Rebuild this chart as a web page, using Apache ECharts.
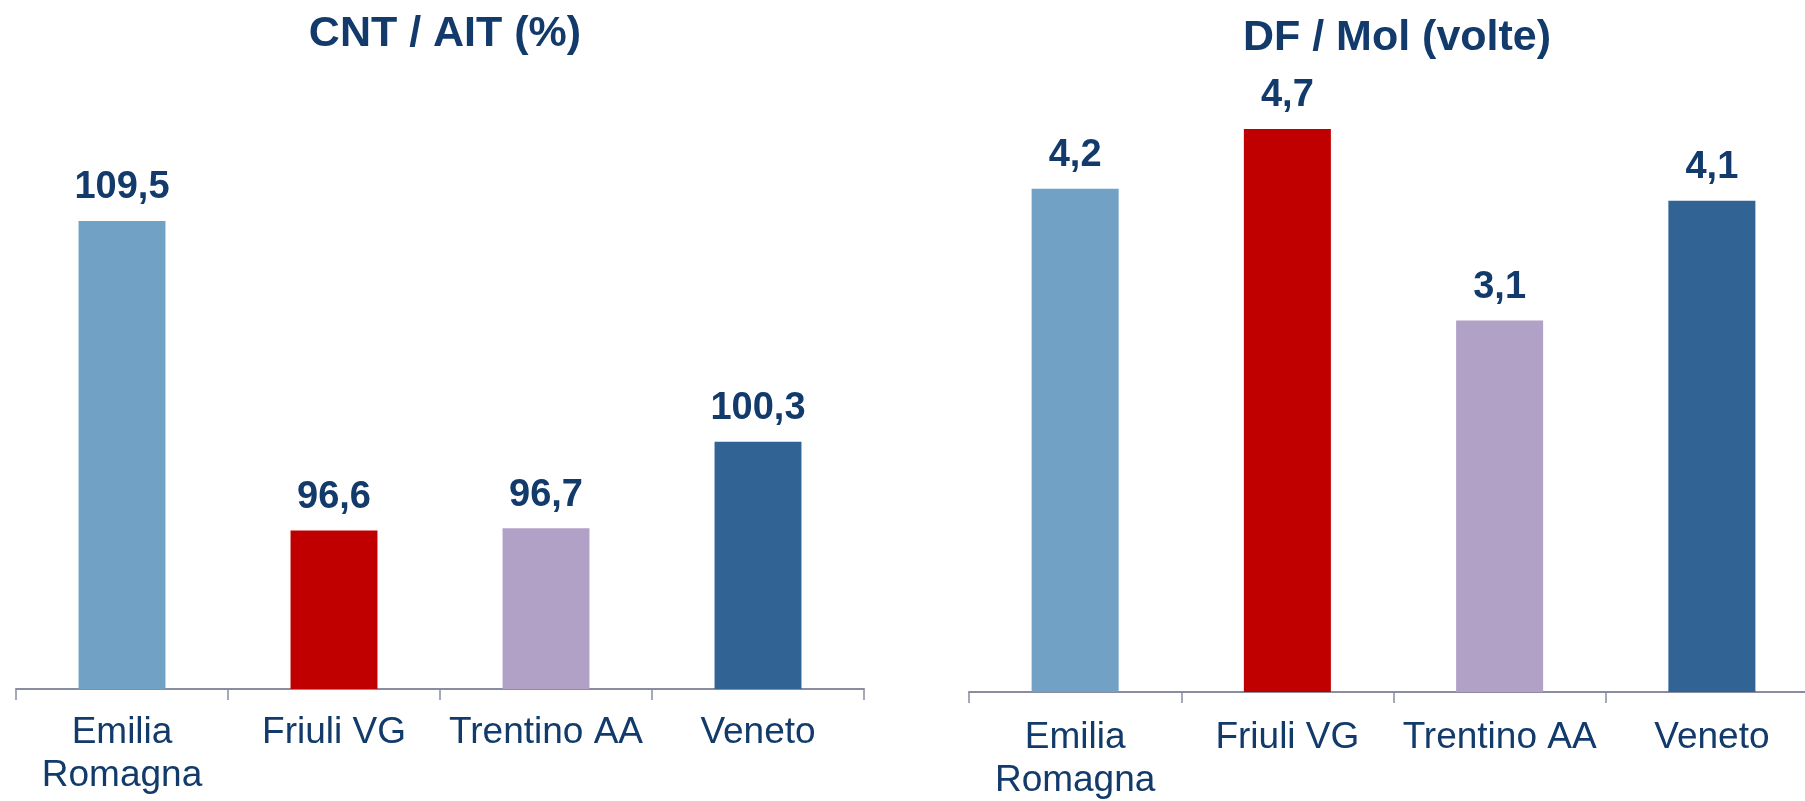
<!DOCTYPE html>
<html>
<head>
<meta charset="utf-8">
<script src="https://cdn.jsdelivr.net/npm/echarts@6/dist/echarts.min.js"></script>
<style>
  html, body { margin: 0; padding: 0; background: #ffffff; }
  #chart { width: 1805px; height: 801px; }
</style>
</head>
<body>
<div id="chart"></div>
<script>
// Regions shown on both panels
const categories = ['Emilia\nRomagna', 'Friuli VG', 'Trentino AA', 'Veneto'];
// CNT / AIT ratio (%) per region
const cntAit = [109.5, 96.6, 96.7, 100.3];
// DF / Mol ratio (times) per region
const dfMol = [4.2, 4.7, 3.1, 4.1];
// One colour per region
const barColors = ['#71A2C6', '#C00000', '#B1A1C6', '#316395'];
const titles = ['CNT / AIT (%)', 'DF / Mol (volte)'];

const textColor = '#123A6A';
const axisColor = '#8A8C9F';
const fontFamily = '"Liberation Sans", Arial, sans-serif';

const fmt = v => v.toFixed(1).replace('.', ',');

function barSeries(values, axisIdx) {
  return {
    type: 'bar',
    xAxisIndex: axisIdx,
    yAxisIndex: axisIdx,
    barWidth: '41%',
    data: values.map((v, i) => ({ value: v, itemStyle: { color: barColors[i] } })),
    label: {
      show: true,
      position: 'top',
      distance: 14,
      color: textColor,
      fontFamily: fontFamily,
      fontWeight: 'bold',
      fontSize: 38,
      formatter: p => fmt(p.value)
    }
  };
}

function catAxis(gridIdx, margin) {
  return {
    type: 'category',
    gridIndex: gridIdx,
    data: categories,
    axisLine: { lineStyle: { color: axisColor, width: 2 } },
    axisTick: { show: true, length: 11, lineStyle: { color: axisColor, width: 1.5 } },
    axisLabel: {
      color: textColor,
      fontFamily: fontFamily,
      fontSize: 37,
      lineHeight: 43,
      margin: margin,
      interval: 0
    }
  };
}

function valAxis(gridIdx, min, max) {
  return {
    type: 'value',
    gridIndex: gridIdx,
    min: min,
    max: max,
    show: false,
    splitLine: { show: false }
  };
}

const chart = echarts.init(document.getElementById('chart'), null, { renderer: 'canvas' });
chart.setOption({
  backgroundColor: '#ffffff',
  animation: false,
  title: [
    {
      text: titles[0], left: 440, top: 8, textAlign: 'center',
      textStyle: { color: textColor, fontFamily: fontFamily, fontWeight: 'bold', fontSize: 43 }
    },
    {
      text: titles[1], left: 1392, top: 12, textAlign: 'center',
      textStyle: { color: textColor, fontFamily: fontFamily, fontWeight: 'bold', fontSize: 43 }
    }
  ],
  grid: [
    { left: 16, width: 848, top: 209, bottom: 112, outerBoundsMode: 'none', containLabel: false },
    { left: 969, width: 849, top: 93, bottom: 109, outerBoundsMode: 'none', containLabel: false }
  ],
  xAxis: [catAxis(0, 22), catAxis(1, 24)],
  yAxis: [valAxis(0, 90, 110), valAxis(1, 0, 5)],
  series: [barSeries(cntAit, 0), barSeries(dfMol, 1)]
});
</script>
</body>
</html>
